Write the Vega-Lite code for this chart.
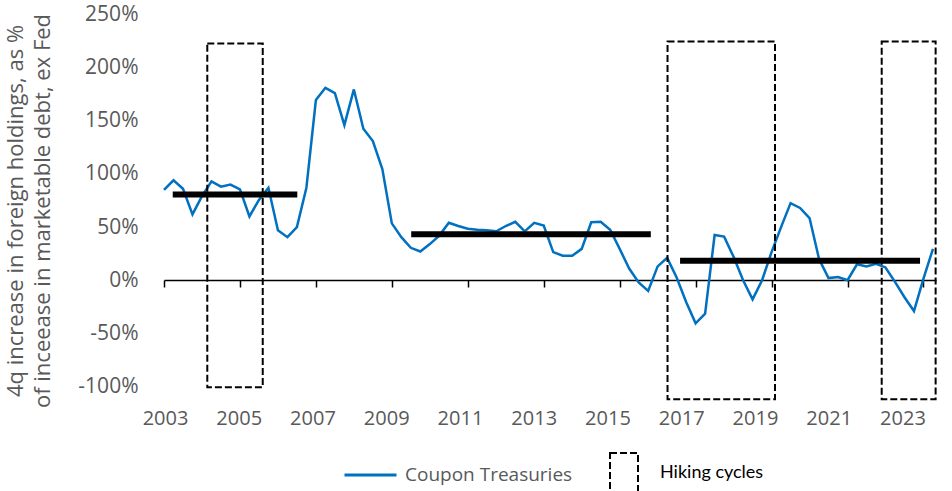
{
  "$schema": "https://vega.github.io/schema/vega-lite/v6.json",
  "width": 772,
  "height": 372,
  "autosize": {"type": "none"},
  "padding": {"left": 164, "top": 14.5, "right": 16, "bottom": 104.5},
  "config": {
    "view": {"stroke": null},
    "font": "Open Sans"
  },
  "datasets": {
    "series": [
      {"t": 2003.00, "v": 85, "s": "Coupon Treasuries"},
      {"t": 2003.25, "v": 94, "s": "Coupon Treasuries"},
      {"t": 2003.50, "v": 86, "s": "Coupon Treasuries"},
      {"t": 2003.75, "v": 62, "s": "Coupon Treasuries"},
      {"t": 2004.00, "v": 79, "s": "Coupon Treasuries"},
      {"t": 2004.25, "v": 93, "s": "Coupon Treasuries"},
      {"t": 2004.50, "v": 88, "s": "Coupon Treasuries"},
      {"t": 2004.75, "v": 90, "s": "Coupon Treasuries"},
      {"t": 2005.00, "v": 85.5, "s": "Coupon Treasuries"},
      {"t": 2005.25, "v": 60, "s": "Coupon Treasuries"},
      {"t": 2005.50, "v": 75.5, "s": "Coupon Treasuries"},
      {"t": 2005.75, "v": 87, "s": "Coupon Treasuries"},
      {"t": 2006.00, "v": 47, "s": "Coupon Treasuries"},
      {"t": 2006.25, "v": 40.5, "s": "Coupon Treasuries"},
      {"t": 2006.50, "v": 50, "s": "Coupon Treasuries"},
      {"t": 2006.75, "v": 87, "s": "Coupon Treasuries"},
      {"t": 2007.00, "v": 169.5, "s": "Coupon Treasuries"},
      {"t": 2007.25, "v": 181, "s": "Coupon Treasuries"},
      {"t": 2007.50, "v": 176, "s": "Coupon Treasuries"},
      {"t": 2007.75, "v": 146, "s": "Coupon Treasuries"},
      {"t": 2008.00, "v": 179.5, "s": "Coupon Treasuries"},
      {"t": 2008.25, "v": 142.5, "s": "Coupon Treasuries"},
      {"t": 2008.50, "v": 131, "s": "Coupon Treasuries"},
      {"t": 2008.75, "v": 104.5, "s": "Coupon Treasuries"},
      {"t": 2009.00, "v": 53.5, "s": "Coupon Treasuries"},
      {"t": 2009.25, "v": 40.5, "s": "Coupon Treasuries"},
      {"t": 2009.50, "v": 30.5, "s": "Coupon Treasuries"},
      {"t": 2009.75, "v": 27, "s": "Coupon Treasuries"},
      {"t": 2010.00, "v": 34, "s": "Coupon Treasuries"},
      {"t": 2010.25, "v": 42, "s": "Coupon Treasuries"},
      {"t": 2010.50, "v": 54, "s": "Coupon Treasuries"},
      {"t": 2010.75, "v": 51, "s": "Coupon Treasuries"},
      {"t": 2011.00, "v": 48.5, "s": "Coupon Treasuries"},
      {"t": 2011.25, "v": 47.5, "s": "Coupon Treasuries"},
      {"t": 2011.50, "v": 47, "s": "Coupon Treasuries"},
      {"t": 2011.75, "v": 46, "s": "Coupon Treasuries"},
      {"t": 2012.00, "v": 51, "s": "Coupon Treasuries"},
      {"t": 2012.25, "v": 55, "s": "Coupon Treasuries"},
      {"t": 2012.50, "v": 46, "s": "Coupon Treasuries"},
      {"t": 2012.75, "v": 54, "s": "Coupon Treasuries"},
      {"t": 2013.00, "v": 51.5, "s": "Coupon Treasuries"},
      {"t": 2013.25, "v": 26.5, "s": "Coupon Treasuries"},
      {"t": 2013.50, "v": 23, "s": "Coupon Treasuries"},
      {"t": 2013.75, "v": 23, "s": "Coupon Treasuries"},
      {"t": 2014.00, "v": 29.5, "s": "Coupon Treasuries"},
      {"t": 2014.25, "v": 54.5, "s": "Coupon Treasuries"},
      {"t": 2014.50, "v": 55, "s": "Coupon Treasuries"},
      {"t": 2014.75, "v": 47.5, "s": "Coupon Treasuries"},
      {"t": 2015.00, "v": 29.5, "s": "Coupon Treasuries"},
      {"t": 2015.25, "v": 11, "s": "Coupon Treasuries"},
      {"t": 2015.50, "v": -2, "s": "Coupon Treasuries"},
      {"t": 2015.75, "v": -10, "s": "Coupon Treasuries"},
      {"t": 2016.00, "v": 13, "s": "Coupon Treasuries"},
      {"t": 2016.25, "v": 21, "s": "Coupon Treasuries"},
      {"t": 2016.50, "v": 2.5, "s": "Coupon Treasuries"},
      {"t": 2016.75, "v": -20.5, "s": "Coupon Treasuries"},
      {"t": 2017.00, "v": -40.5, "s": "Coupon Treasuries"},
      {"t": 2017.25, "v": -31.5, "s": "Coupon Treasuries"},
      {"t": 2017.50, "v": 42.5, "s": "Coupon Treasuries"},
      {"t": 2017.75, "v": 41, "s": "Coupon Treasuries"},
      {"t": 2018.00, "v": 22, "s": "Coupon Treasuries"},
      {"t": 2018.25, "v": 0, "s": "Coupon Treasuries"},
      {"t": 2018.50, "v": -18, "s": "Coupon Treasuries"},
      {"t": 2018.75, "v": 0, "s": "Coupon Treasuries"},
      {"t": 2019.00, "v": 26.5, "s": "Coupon Treasuries"},
      {"t": 2019.25, "v": 50, "s": "Coupon Treasuries"},
      {"t": 2019.50, "v": 72.5, "s": "Coupon Treasuries"},
      {"t": 2019.75, "v": 68, "s": "Coupon Treasuries"},
      {"t": 2020.00, "v": 58.5, "s": "Coupon Treasuries"},
      {"t": 2020.25, "v": 20, "s": "Coupon Treasuries"},
      {"t": 2020.50, "v": 2, "s": "Coupon Treasuries"},
      {"t": 2020.75, "v": 3, "s": "Coupon Treasuries"},
      {"t": 2021.00, "v": 0, "s": "Coupon Treasuries"},
      {"t": 2021.25, "v": 15, "s": "Coupon Treasuries"},
      {"t": 2021.50, "v": 13, "s": "Coupon Treasuries"},
      {"t": 2021.75, "v": 15.5, "s": "Coupon Treasuries"},
      {"t": 2022.00, "v": 12, "s": "Coupon Treasuries"},
      {"t": 2022.25, "v": -1.5, "s": "Coupon Treasuries"},
      {"t": 2022.50, "v": -16, "s": "Coupon Treasuries"},
      {"t": 2022.75, "v": -29, "s": "Coupon Treasuries"},
      {"t": 2023.00, "v": 1.5, "s": "Coupon Treasuries"},
      {"t": 2023.25, "v": 29.5, "s": "Coupon Treasuries"}
    ],
    "averages": [
      {"start": 2003.23, "end": 2006.51, "avg": 80.6},
      {"start": 2009.51, "end": 2015.82, "avg": 43.3},
      {"start": 2016.59, "end": 2022.91, "avg": 18.2}
    ],
    "cycles": [
      {"start": 2004.14, "end": 2005.60, "top": 222.7, "bottom": -100.7, "type": "Hiking cycles"},
      {"start": 2016.26, "end": 2019.09, "top": 224.6, "bottom": -112, "type": "Hiking cycles"},
      {"start": 2021.90, "end": 2023.32, "top": 224.6, "bottom": -112, "type": "Hiking cycles"}
    ]
  },
  "layer": [
    {
      "data": {"name": "series"},
      "mark": {"type": "line", "strokeWidth": 2.5, "interpolate": "linear"},
      "encoding": {
        "x": {
          "field": "t", "type": "quantitative",
          "scale": {"domain": [2003, 2023.33], "nice": false, "zero": false},
          "axis": {
            "title": null,
            "values": [2003, 2005, 2007, 2009, 2011, 2013, 2015, 2017, 2019, 2021, 2023],
            "format": "d",
            "offset": -106.5,
            "domain": true, "domainColor": "#000000", "domainWidth": 1.5,
            "ticks": true, "tickColor": "#000000", "tickWidth": 1.5, "tickSize": 7,
            "grid": false,
            "labelPadding": 121,
            "labelOffset": {"expr": "1 - (datum.value - 2003) * 1.1"},
            "labelFont": "Open Sans", "labelFontSize": 20, "labelColor": "#595959",
            "labelFlush": false, "labelOverlap": false
          }
        },
        "y": {
          "field": "v", "type": "quantitative",
          "scale": {"domain": [-100, 250], "nice": false},
          "axis": {
            "title": ["4q increase in foreign holdings, as %", "of inceease in marketable debt, ex Fed"],
            "titleFont": "Open Sans", "titleFontSize": 22, "titleFontWeight": "normal",
            "titleColor": "#595959", "titleLineHeight": 27,
            "titleBaseline": "top", "titleX": -159, "titleY": 196, "titleAngle": -90,
            "values": [-100, -50, 0, 50, 100, 150, 200, 250],
            "labelExpr": "datum.value + '%'",
            "domain": false, "ticks": false, "grid": false,
            "labelPadding": 26,
            "labelFont": "Open Sans", "labelFontSize": 21, "labelColor": "#595959"
          }
        },
        "color": {
          "field": "s", "type": "nominal",
          "scale": {"domain": ["Coupon Treasuries"], "range": ["#0070C0"]},
          "legend": {
            "orient": "none", "legendX": 179, "legendY": 433,
            "title": null, "symbolType": "stroke", "symbolSize": 2704,
            "symbolStrokeWidth": 3, "labelLimit": 400,
            "labelFont": "Open Sans", "labelFontSize": 19, "labelColor": "#595959",
            "labelOffset": 7
          }
        }
      }
    },
    {
      "data": {"name": "averages"},
      "mark": {"type": "rule", "strokeWidth": 6, "color": "#000000", "strokeCap": "butt"},
      "encoding": {
        "x": {"field": "start", "type": "quantitative"},
        "x2": {"field": "end"},
        "y": {"field": "avg", "type": "quantitative"}
      }
    },
    {
      "data": {"name": "cycles"},
      "mark": {"type": "rect", "fill": "transparent", "strokeWidth": 2, "strokeDash": [7, 3]},
      "encoding": {
        "x": {"field": "start", "type": "quantitative"},
        "x2": {"field": "end"},
        "y": {"field": "top", "type": "quantitative"},
        "y2": {"field": "bottom"},
        "stroke": {
          "field": "type", "type": "nominal",
          "scale": {"domain": ["Hiking cycles"], "range": ["#000000"]},
          "legend": {
            "orient": "none", "legendX": 439, "legendY": 437.5,
            "title": null, "symbolType": "M-0.7,-1H0.7V1H-0.7Z", "symbolSize": 1600,
            "symbolFillColor": "transparent", "symbolDash": [7, 3],
            "symbolStrokeWidth": 2, "labelLimit": 400,
            "labelFont": "Lato", "labelFontSize": 18, "labelColor": "#000000",
            "labelOffset": 15
          }
        }
      }
    }
  ]
}
